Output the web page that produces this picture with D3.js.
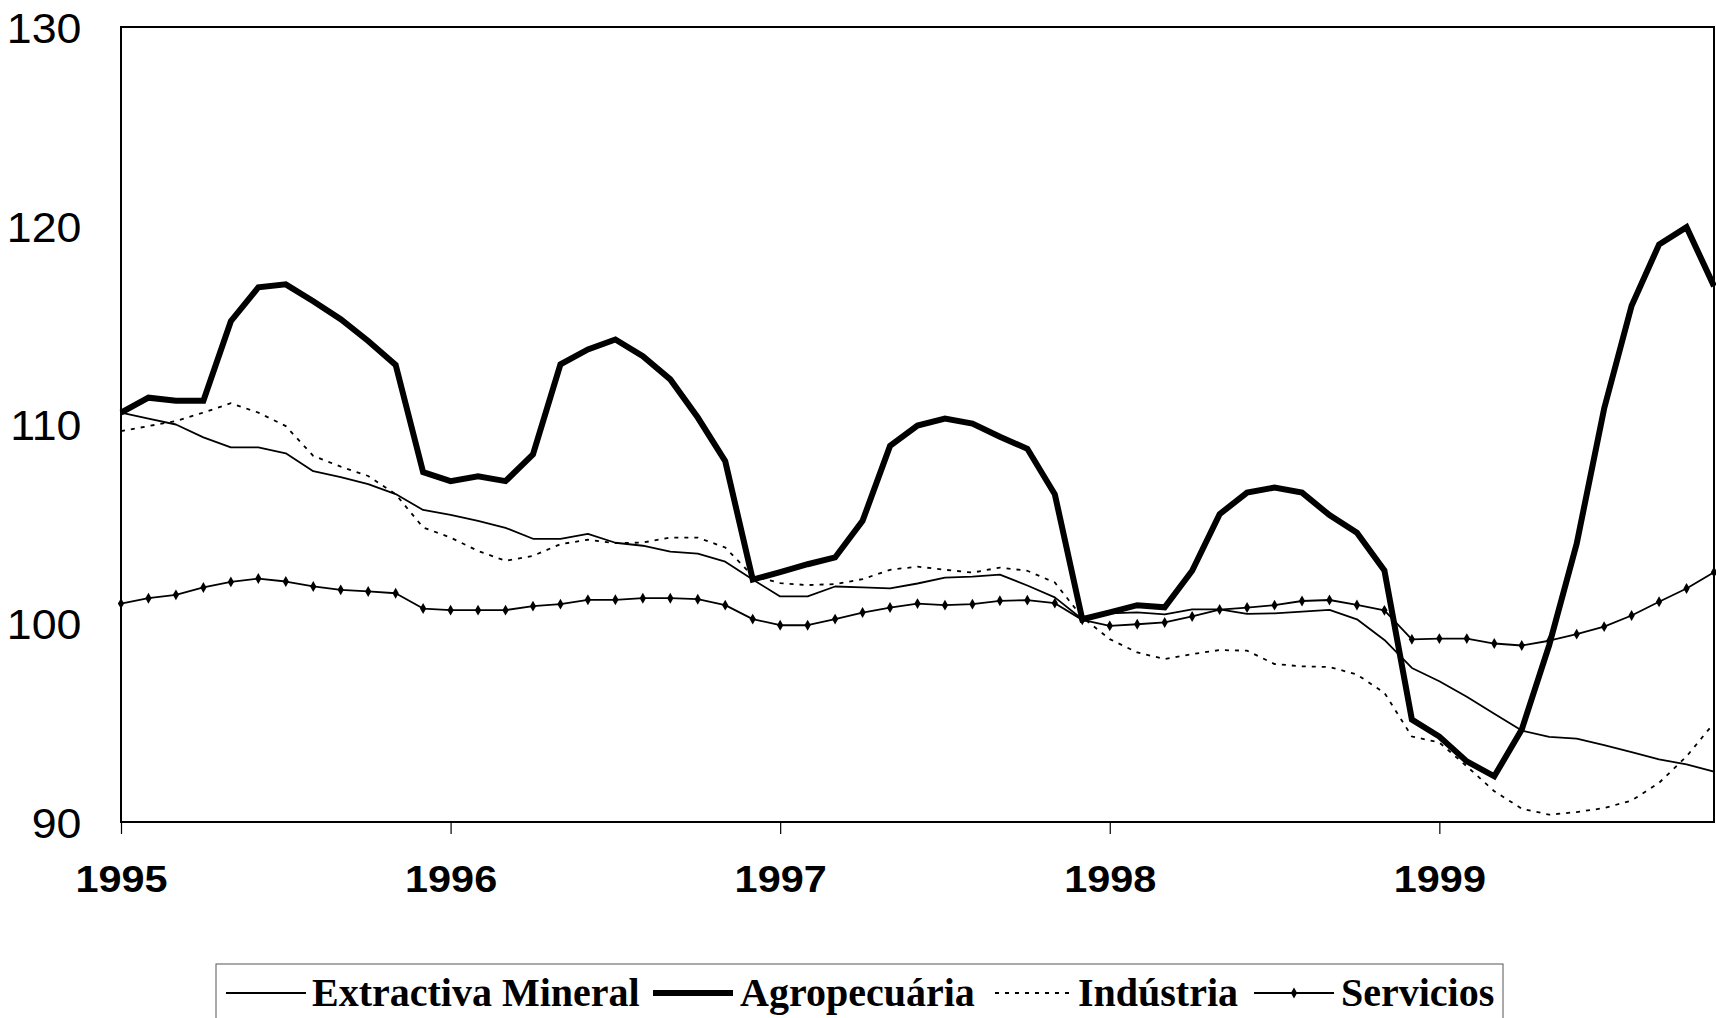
<!DOCTYPE html>
<html>
<head>
<meta charset="utf-8">
<script src="https://cdn.jsdelivr.net/npm/d3@7"></script>
<style>
  html, body { margin: 0; padding: 0; background: #fff; }
  svg { display: block; }
</style>
</head>
<body>
<svg id="chart" width="1716" height="1018"></svg>
<script>
// ---------------- DATA ----------------
const years = ["1995", "1996", "1997", "1998", "1999"];
const months = ["01","02","03","04","05","06","07","08","09","10","11","12"];
const categories = years.flatMap(y => months.map(m => y + "-" + m)).slice(0, 59); // Jan 1995 .. Nov 1999
const yTicks = [90, 100, 110, 120, 130];

const seriesNames = ["Extractiva Mineral", "Agropecuária", "Indústria", "Servicios"];

const extractiva = [110.6, 110.3, 110.0, 109.35, 108.85, 108.85, 108.55, 107.65, 107.35, 107.0, 106.5, 105.7,
  105.45, 105.15, 104.8, 104.25, 104.25, 104.5, 104.05, 103.9, 103.6, 103.5, 103.1, 102.2,
  101.35, 101.35, 101.85, 101.8, 101.75, 102.0, 102.3, 102.35, 102.45, 101.9, 101.3, 100.2,
  100.5, 100.55, 100.45, 100.7, 100.7, 100.47, 100.5, 100.58, 100.67, 100.2, 99.16, 97.75,
  97.08, 96.3, 95.45, 94.6, 94.28, 94.2, 93.87, 93.52, 93.15, 92.9, 92.53];

const agropecuaria = [110.6, 111.35, 111.2, 111.2, 115.2, 116.9, 117.05, 116.2, 115.3, 114.2, 113.0, 107.6,
  107.15, 107.4, 107.15, 108.5, 113.03, 113.78, 114.28, 113.44, 112.27, 110.35, 108.15, 102.2,
  102.57, 102.97, 103.31, 105.15, 108.92, 109.95, 110.3, 110.05, 109.38, 108.78, 106.49, 100.2,
  100.55, 100.91, 100.8, 102.64, 105.49, 106.57, 106.83, 106.57, 105.44, 104.56, 102.66, 95.15,
  94.3, 93.05, 92.3, 94.65, 98.9, 104.0, 110.8, 115.97, 119.06, 119.93, 116.96];

const industria = [109.67, 109.92, 110.17, 110.6, 111.07, 110.6, 109.92, 108.42, 107.88, 107.41, 106.49, 104.82,
  104.31, 103.64, 103.14, 103.39, 103.98, 104.2, 104.03, 104.06, 104.31, 104.31, 103.81, 102.38,
  102.02, 101.92, 101.97, 102.22, 102.69, 102.85, 102.69, 102.55, 102.8, 102.64, 102.05, 100.3,
  99.2, 98.53, 98.2, 98.45, 98.65, 98.62, 97.95, 97.83, 97.8, 97.42, 96.5, 94.3,
  94.0, 92.8, 91.55, 90.67, 90.37, 90.5, 90.7, 91.08, 91.97, 93.3, 94.98];

const servicios = [100.99, 101.26, 101.43, 101.8, 102.08, 102.25, 102.1, 101.85, 101.68, 101.6, 101.51, 100.74,
  100.66, 100.66, 100.66, 100.86, 100.96, 101.18, 101.18, 101.26, 101.26, 101.21, 100.91, 100.21,
  99.9, 99.9, 100.21, 100.54, 100.79, 100.99, 100.91, 100.96, 101.13, 101.16, 101.01, 100.17,
  99.87, 99.95, 100.04, 100.34, 100.69, 100.79, 100.91, 101.12, 101.17, 100.92, 100.65, 99.19,
  99.23, 99.23, 98.98, 98.88, 99.12, 99.45, 99.83, 100.39, 101.08, 101.75, 102.57];

// ---------------- LAYOUT ----------------
const L = 121, R = 1714, T = 27, B = 822;
const svg = d3.select("#chart");
svg.append("rect").attr("width", 1716).attr("height", 1018).attr("fill", "#fff");

const x = d3.scalePoint().domain(categories).range([L, R]);
const y = d3.scaleLinear().domain([90, 130]).range([B, T]);

// Y axis labels
const yAxis = svg.append("g").attr("transform", `translate(${L},0)`)
  .call(d3.axisLeft(y).tickValues(yTicks).tickSize(0).tickPadding(38).tickFormat(d3.format("d")));
yAxis.select(".domain").remove();
yAxis.selectAll("text")
  .attr("font-family", "'Liberation Sans', Arial, sans-serif")
  .attr("font-size", 43)
  .attr("fill", "#000")
  .attr("dy", "0.36em")
  .attr("transform", "scale(1.04,1)");

// X axis
const janCats = categories.filter(c => c.endsWith("-01"));
const xAxis = svg.append("g").attr("transform", `translate(0,${B})`)
  .call(d3.axisBottom(x).tickValues(janCats).tickSize(12).tickPadding(32).tickFormat(c => c.slice(0, 4)));
xAxis.select(".domain").remove();
xAxis.selectAll("line").attr("stroke", "#000").attr("stroke-width", 1.2);
xAxis.selectAll("text")
  .attr("font-family", "'Liberation Sans', Arial, sans-serif")
  .attr("font-weight", "bold")
  .attr("font-size", 37)
  .attr("fill", "#000")
  .attr("dy", "0.71em")
  .attr("transform", "scale(1.12,1)");

// Plot frame
svg.append("rect")
  .attr("x", L).attr("y", T).attr("width", R - L).attr("height", B - T)
  .attr("fill", "none").attr("stroke", "#000").attr("stroke-width", 2);

// Lines
const line = d3.line().x((d, i) => x(categories[i])).y(d => y(d));

svg.append("path").datum(industria).attr("d", line)
  .attr("fill", "none").attr("stroke", "#000").attr("stroke-width", 1.8)
  .attr("stroke-dasharray", "4,6");

svg.append("path").datum(extractiva).attr("d", line)
  .attr("fill", "none").attr("stroke", "#000").attr("stroke-width", 1.8).attr("stroke-linejoin", "round");

svg.append("path").datum(servicios).attr("d", line)
  .attr("fill", "none").attr("stroke", "#000").attr("stroke-width", 1.8).attr("stroke-linejoin", "round");

const diamond = d3.symbol().type(d3.symbolDiamond).size(34);
svg.append("g").selectAll("path").data(servicios).join("path")
  .attr("d", diamond)
  .attr("transform", (d, i) => `translate(${x(categories[i])},${y(d)})`)
  .attr("fill", "#000");

svg.append("path").datum(agropecuaria).attr("d", line)
  .attr("fill", "none").attr("stroke", "#000").attr("stroke-width", 6).attr("stroke-linejoin", "miter");

// Legend
const legendFont = "'Liberation Serif', 'Times New Roman', serif";
const lg = svg.append("g");
lg.append("rect").attr("x", 216).attr("y", 964).attr("width", 1287).attr("height", 70)
  .attr("fill", "none").attr("stroke", "#555").attr("stroke-width", 1);

const legendItems = [
  { name: seriesNames[0], x0: 226, x1: 306, tx: 312, w: 1.8, dash: null, marker: false },
  { name: seriesNames[1], x0: 653, x1: 733, tx: 740, w: 6, dash: null, marker: false },
  { name: seriesNames[2], x0: 995, x1: 1071, tx: 1078, w: 1.8, dash: "4,6", marker: false },
  { name: seriesNames[3], x0: 1254, x1: 1334, tx: 1341, w: 1.8, dash: null, marker: true }
];
const ly = 993;
legendItems.forEach(it => {
  const ln = lg.append("line").attr("x1", it.x0).attr("x2", it.x1).attr("y1", ly).attr("y2", ly)
    .attr("stroke", "#000").attr("stroke-width", it.w);
  if (it.dash) ln.attr("stroke-dasharray", it.dash);
  if (it.marker) {
    lg.append("path").attr("d", diamond)
      .attr("transform", `translate(${(it.x0 + it.x1) / 2},${ly})`).attr("fill", "#000");
  }
  lg.append("text").attr("x", it.tx).attr("y", 1006)
    .attr("font-family", legendFont).attr("font-weight", "bold").attr("font-size", 40)
    .attr("fill", "#000").text(it.name);
});
</script>
</body>
</html>
